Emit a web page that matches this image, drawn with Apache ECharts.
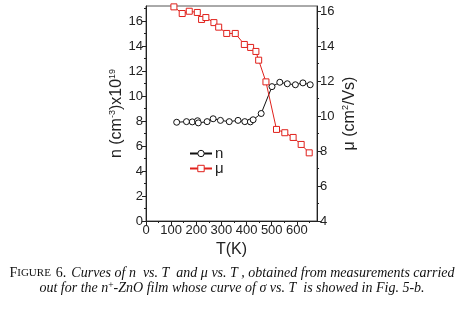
<!DOCTYPE html>
<html>
<head>
<meta charset="utf-8">
<script src="https://cdn.jsdelivr.net/npm/echarts@6/dist/echarts.min.js"></script>
<style>
html,body{margin:0;padding:0;background:#fff;}
#c{width:464px;height:311px;}
</style>
</head>
<body>
<div id="c"></div>
<script>
// Carrier concentration n (x10^19 cm^-3) vs T(K)
const tempN = [122, 161, 184, 205, 208, 243, 267, 296, 331, 366, 393, 415, 426, 458, 501, 532, 562, 594, 624, 653];
const nValues = [7.9, 7.95, 7.93, 8.02, 7.85, 7.95, 8.18, 8.05, 7.95, 8.05, 7.95, 7.93, 8.1, 8.6, 10.75, 11.1, 10.98, 10.9, 11.05, 10.9];
// Mobility mu (cm^2/Vs) vs T(K)
const tempMu = [111, 144, 172, 204, 221, 238, 270, 289, 321, 355, 391, 416, 437, 448, 477, 519, 552, 585, 617, 649];
const muValues = [16.25, 15.87, 16.0, 15.93, 15.53, 15.64, 15.35, 15.09, 14.73, 14.73, 14.1, 13.93, 13.7, 13.2, 11.96, 9.24, 9.05, 8.78, 8.38, 7.9];
// Tick labels
const xTicks = [0, 100, 200, 300, 400, 500, 600];
const leftTicks = [0, 2, 4, 6, 8, 10, 12, 14, 16];
const rightTicks = [4, 6, 8, 10, 12, 14, 16];

const chart = echarts.init(document.getElementById('c'));
const axisFont = 'Liberation Sans, Arial, sans-serif';
const serif = 'Liberation Serif, serif';
const ax = { lineStyle: { color: '#222', width: 1 } };
function pairs(xs, ys) { return xs.map((x, i) => [x, ys[i]]); }

chart.setOption({
  animation: false,
  backgroundColor: '#fff',
  grid: { left: 146, right: 147, top: 6, bottom: 90, show: true, borderColor: '#555', borderWidth: 1 },
  title: [
    {
      text: '{sc|F}{scs|IGURE} {rm|6.} {it|Curves of n  vs. T  and μ vs. T , obtained from measurements carried}',
      left: 'center', top: 259,
      textStyle: {
        fontWeight: 'normal',
        rich: {
          sc: { fontFamily: serif, fontSize: 14, fontWeight: 'normal', color: '#111' },
          scs: { fontFamily: serif, fontSize: 11, fontWeight: 'normal', color: '#111' },
          rm: { fontFamily: serif, fontSize: 14, fontWeight: 'normal', color: '#111' },
          it: { fontFamily: serif, fontStyle: 'italic', fontSize: 14, fontWeight: 'normal', color: '#111' }
        }
      }
    },
    {
      text: '{it|out for the n}{sup|+}{it|-ZnO film whose curve of σ vs. T  is showed in Fig. 5-b.}',
      left: 'center', top: 275,
      textStyle: {
        fontWeight: 'normal',
        rich: {
          it: { fontFamily: serif, fontStyle: 'italic', fontSize: 14, fontWeight: 'normal', color: '#111' },
          sup: { fontFamily: serif, fontSize: 9.5, fontWeight: 'normal', color: '#111', verticalAlign: 'top', padding: [0, 0, 6, 0] }
        }
      }
    }
  ],
  legend: {
    orient: 'vertical', left: 184, top: 141, itemGap: 0, itemWidth: 22, itemHeight: 8,
    itemStyle: { borderWidth: 1 },
    textStyle: { fontFamily: axisFont, fontSize: 15, color: '#222', padding: [0, 0, 0, -2] },
    data: ['n', 'μ']
  },
  xAxis: {
    type: 'value', min: 0, max: 680, interval: 100,
    name: 'T(K)', nameLocation: 'middle', nameGap: 14,
    nameTextStyle: { fontFamily: axisFont, fontSize: 16, color: '#222' },
    axisLine: ax,
    axisTick: { show: true, inside: false, length: 4, lineStyle: { color: '#222' }, customValues: xTicks },
    minorTick: { show: true, splitNumber: 2, length: 2, lineStyle: { color: '#222' } },
    axisLabel: { customValues: xTicks, fontFamily: axisFont, fontSize: 13, color: '#222', margin: 3 },
    splitLine: { show: false }
  },
  yAxis: [
    {
      type: 'value', min: 0, max: 17.2, interval: 2, position: 'left',
      name: '{t|n (cm}{s|-3}{t|)x10}{s|19}', nameLocation: 'middle', nameGap: 18, nameRotate: 90,
      nameTextStyle: {
        rich: {
          t: { fontFamily: axisFont, fontSize: 16, color: '#222' },
          s: { fontFamily: axisFont, fontSize: 9, color: '#222', verticalAlign: 'top', padding: [0, 0, 8, 0] }
        }
      },
      axisLine: { show: true, lineStyle: { color: '#222' } },
      axisTick: { show: true, inside: false, length: 4, lineStyle: { color: '#222' }, customValues: leftTicks },
      minorTick: { show: true, splitNumber: 2, length: 2, lineStyle: { color: '#222' } },
      axisLabel: { customValues: leftTicks, fontFamily: axisFont, fontSize: 13, color: '#222', margin: 3 },
      splitLine: { show: false }
    },
    {
      type: 'value', min: 4, max: 16.3, interval: 2, position: 'right',
      name: '{t|μ (cm}{s|2}{t|/Vs)}', nameLocation: 'middle', nameGap: 24, nameRotate: 90,
      nameTextStyle: {
        rich: {
          t: { fontFamily: axisFont, fontSize: 16, color: '#222' },
          s: { fontFamily: axisFont, fontSize: 9, color: '#222', verticalAlign: 'top', padding: [0, 0, 8, 0] }
        }
      },
      axisLine: { show: true, lineStyle: { color: '#222' } },
      axisTick: { show: true, inside: false, length: 4, lineStyle: { color: '#222' }, customValues: rightTicks },
      minorTick: { show: true, splitNumber: 2, length: 2, lineStyle: { color: '#222' } },
      axisLabel: { customValues: rightTicks, fontFamily: axisFont, fontSize: 13, color: '#222', margin: 3 },
      splitLine: { show: false }
    }
  ],
  series: [
    {
      name: 'n', type: 'line', yAxisIndex: 0,
      data: pairs(tempN, nValues),
      symbol: 'circle', symbolSize: 6,
      lineStyle: { color: '#111', width: 1 },
      itemStyle: { color: '#fff', borderColor: '#111', borderWidth: 1 },
      z: 3
    },
    {
      name: 'μ', type: 'line', yAxisIndex: 1,
      data: pairs(tempMu, muValues),
      symbol: 'rect', symbolSize: 6,
      lineStyle: { color: '#e0201b', width: 1 },
      itemStyle: { color: '#fff', borderColor: '#e0201b', borderWidth: 1 },
      z: 4
    }
  ]
});
</script>
</body>
</html>
